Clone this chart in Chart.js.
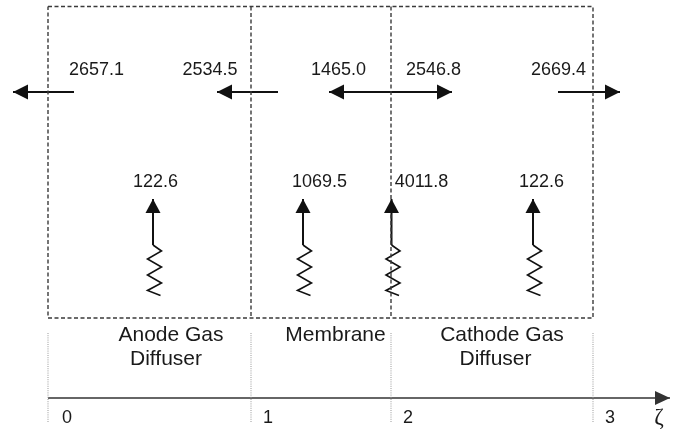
<!DOCTYPE html>
<html lang="en">
<head>
<meta charset="UTF-8">
<title>Heat flux across the MEA</title>
<script src="https://cdn.jsdelivr.net/npm/chart.js"></script>
<style>
  body { margin: 0; background: #fff; }
  canvas { display: block; }
</style>
</head>
<body>
<canvas id="fluxChart" width="679" height="431"></canvas>
<script>
// values
const horizontalFlux = [2657.1, 2534.5, 1465.0, 2546.8, 2669.4];
const verticalFlux = [122.6, 1069.5, 4011.8, 122.6];
const regionNames = [['Anode Gas', 'Diffuser'], ['Membrane'], ['Cathode Gas', 'Diffuser']];
const zetaTicks = ['0', '1', '2', '3'];

// layout, in canvas units (x to the right, y downwards)
const boundaryX = [48, 251, 391, 593];
const boxTop = 6.5, boxBottom = 318;
const guideTop = 333, guideBottom = 423;
const axisY = 398, axisEnd = 670;
const hArrowY = 92;
const hArrows = [[74, 13], [278, 217], [391, 329], [391, 452], [558, 620]];
const hLabelX = [96.5, 210, 338.5, 433.5, 558.5];
const hLabelY = 70.5;
const vArrowX = [153, 303, 391.5, 533];
const vLabelX = [155.5, 319.5, 421.5, 541.5];
const vLabelY = 182.5;
const vArrowTip = 199, vArrowBase = 245;
const zigDX = [0, 8.5, -5.5, 8.5, -5.5, 8.5, -5.5, 7.5];
const zigY = [245, 251, 259, 267, 275, 283, 290.5, 295.5];
const regionLabelX = [[171, 166], [335.5], [502, 495.5]];
const regionLabelY = [335.5, 359.5];
const tickLabelX = [67, 268, 408, 610];
const tickLabelY = 418;

const ink = '#111';
const pt = (x, y) => ({ x: x, y: y });

function lineSet(points, color, width, dash, arrow) {
  return {
    data: points,
    showLine: true,
    borderColor: color,
    backgroundColor: color,
    borderWidth: width,
    borderDash: dash || [],
    pointRadius: 0,
    fill: false,
    tension: 0,
    arrow: arrow || null
  };
}

const datasets = [];

// dashed outline of the three layers
const L = boundaryX[0], R = boundaryX[3];
datasets.push(lineSet([pt(L, boxTop), pt(R, boxTop), pt(R, boxBottom), pt(L, boxBottom), pt(L, boxTop)],
  '#3a3a3a', 1.4, [4, 2.5]));
[boundaryX[1], boundaryX[2]].forEach(x => {
  datasets.push(lineSet([pt(x, boxTop), pt(x, boxBottom)], '#3a3a3a', 1.4, [4, 2.5]));
});

// dotted guides below
boundaryX.forEach(x => {
  datasets.push(lineSet([pt(x, guideTop), pt(x, guideBottom)], '#999', 1, [1, 1.2]));
});

// zeta axis
datasets.push(lineSet([pt(L, axisY), pt(axisEnd, axisY)], '#333', 1.6, [], { len: 15, half: 7 }));

// horizontal flux arrows
hArrows.forEach(a => {
  datasets.push(lineSet([pt(a[0], hArrowY), pt(a[1], hArrowY)], ink, 2, [], { len: 15, half: 7.5 }));
});

// vertical arrows with zigzag source
vArrowX.forEach(x => {
  datasets.push(lineSet([pt(x, vArrowBase), pt(x, vArrowTip)], ink, 2, [], { len: 14, half: 7.5 }));
  datasets.push(lineSet(zigY.map((y, i) => pt(x + zigDX[i], y)), ink, 1.6));
});

// text labels
const labels = [];
const numFont = '18px "Liberation Sans", Arial, sans-serif';
const regionFont = '21px "Liberation Sans", Arial, sans-serif';
horizontalFlux.forEach((v, i) => labels.push({ text: v.toFixed(1), x: hLabelX[i], y: hLabelY, font: numFont }));
verticalFlux.forEach((v, i) => labels.push({ text: v.toFixed(1), x: vLabelX[i], y: vLabelY, font: numFont }));
regionNames.forEach((lines, i) => {
  lines.forEach((t, j) => labels.push({ text: t, x: regionLabelX[i][j], y: regionLabelY[j], font: regionFont }));
});
zetaTicks.forEach((t, i) => labels.push({ text: t, x: tickLabelX[i], y: tickLabelY, font: numFont }));
labels.push({ text: 'ζ', x: 659, y: 418, font: '23px "Liberation Serif", "DejaVu Serif", serif' });

const arrowHeads = {
  id: 'arrowHeads',
  afterDatasetsDraw(chart) {
    const ctx = chart.ctx;
    chart.data.datasets.forEach((ds, i) => {
      if (!ds.arrow) return;
      const pts = chart.getDatasetMeta(i).data;
      const tip = pts[pts.length - 1], prev = pts[pts.length - 2];
      const ang = Math.atan2(tip.y - prev.y, tip.x - prev.x);
      ctx.save();
      ctx.translate(tip.x, tip.y);
      ctx.rotate(ang);
      ctx.beginPath();
      ctx.moveTo(0, 0);
      ctx.lineTo(-ds.arrow.len, -ds.arrow.half);
      ctx.lineTo(-ds.arrow.len, ds.arrow.half);
      ctx.closePath();
      ctx.fillStyle = ds.borderColor;
      ctx.fill();
      ctx.restore();
    });
  }
};

const textLabels = {
  id: 'textLabels',
  afterDraw(chart) {
    const ctx = chart.ctx;
    const sx = chart.scales.x, sy = chart.scales.y;
    ctx.save();
    ctx.fillStyle = '#1a1a1a';
    ctx.textAlign = 'center';
    ctx.textBaseline = 'middle';
    labels.forEach(l => {
      ctx.font = l.font;
      ctx.fillText(l.text, sx.getPixelForValue(l.x), sy.getPixelForValue(l.y));
    });
    ctx.restore();
  }
};

new Chart(document.getElementById('fluxChart'), {
  type: 'scatter',
  data: { datasets: datasets },
  options: {
    responsive: false,
    animation: false,
    events: [],
    layout: { padding: 0 },
    plugins: { legend: { display: false }, tooltip: { enabled: false } },
    scales: {
      x: { type: 'linear', min: 0, max: 679, display: false },
      y: { type: 'linear', min: 0, max: 431, reverse: true, display: false }
    }
  },
  plugins: [arrowHeads, textLabels]
});
</script>
</body>
</html>
